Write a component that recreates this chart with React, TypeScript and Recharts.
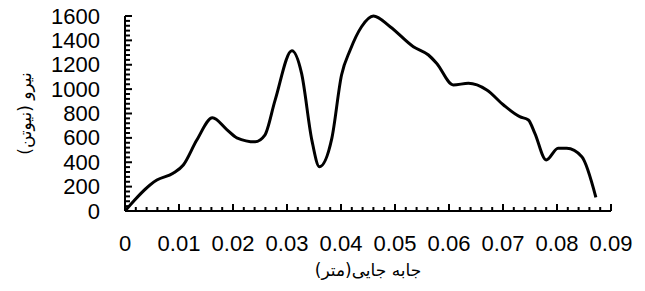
import React from 'react';
import { LineChart, Line, XAxis, YAxis } from 'recharts';

// displacement (m) and force (N)
const displacement = [
  0, 0.0059, 0.0089, 0.0108, 0.0133, 0.0162, 0.0188, 0.0207, 0.0241, 0.0259,
  0.0278, 0.0309, 0.0327, 0.0346, 0.036, 0.0383, 0.0401, 0.0417, 0.0438, 0.046,
  0.0491, 0.0534, 0.0562, 0.0577, 0.0608, 0.0636, 0.067, 0.0701, 0.0731, 0.0747,
  0.0759, 0.078, 0.0802, 0.0818, 0.0846, 0.0872,
];
const force = [
  0, 254, 309, 377, 582, 765, 670, 601, 568, 623,
  910, 1315, 1129, 582, 363, 596, 1116, 1321, 1512, 1600,
  1512, 1348, 1280, 1212, 1034, 1048, 993, 870, 774, 747,
  637, 418, 514, 514, 445, 112,
];

const xLabels = ['0', '0.01', '0.02', '0.03', '0.04', '0.05', '0.06', '0.07', '0.08', '0.09'];
const yLabels = ['0', '200', '400', '600', '800', '1000', '1200', '1400', '1600'];
const xTitle = 'جابه جایی(متر)';
const yTitle = 'نیرو (نیوتن)';

// 5 minor steps between each labelled tick
const xTicks = Array.from({ length: 46 }, (_, i) => +(i * 0.002).toFixed(3));
const yTicks = Array.from({ length: 41 }, (_, i) => i * 40);

const data = displacement.map((x, i) => ({ x, f: force[i] }));

const numFont = "'Liberation Sans', Arial, sans-serif";
const faFont = "'DejaVu Sans', sans-serif";
const tickColor = '#000';

// ticks point inward, longer on the labelled ones
const XTick = (props: any) => {
  const { x, y, index } = props;
  const major = index % 5 === 0;
  const len = major ? 7 : 4;
  return (
    <g>
      <rect x={x - 1} y={y - len} width={2} height={len} fill={tickColor} />
      {major && (
        <text x={x} y={y + 32} textAnchor="middle" dominantBaseline="central"
          fontFamily={numFont} fontSize={22} fill="#000">
          {xLabels[index / 5]}
        </text>
      )}
    </g>
  );
};

const YTick = (props: any) => {
  const { x, y, index } = props;
  const major = index % 5 === 0;
  const len = major ? 7 : 5;
  return (
    <g>
      <rect x={x} y={y - 1} width={len} height={2} fill={tickColor} />
      {major && (
        <text x={x - 25} y={y} textAnchor="end" dominantBaseline="central"
          fontFamily={numFont} fontSize={22} fill="#000">
          {yLabels[index / 5]}
        </text>
      )}
    </g>
  );
};

const XTitle = (props: any) => {
  const { x, y, width } = props.viewBox;
  return (
    <text x={x + width / 2} y={y + 59} textAnchor="middle" dominantBaseline="central"
      fontFamily={faFont} fontSize={17} fill="#000">
      {xTitle}
    </text>
  );
};

const YTitle = (props: any) => {
  const { x, y, height } = props.viewBox;
  const cx = x + 25;
  const cy = y + height / 2;
  return (
    <text x={cx} y={cy} textAnchor="middle" dominantBaseline="central"
      transform={`rotate(-90, ${cx}, ${cy})`}
      fontFamily={faFont} fontSize={17} fill="#000">
      {yTitle}
    </text>
  );
};

export default function App() {
  return (
    <div style={{ position: 'absolute', left: 0, top: 0, background: '#fff' }}>
      <LineChart width={645} height={291} data={data}
        margin={{ top: 16, right: 34, left: 0, bottom: 0 }}>
        <XAxis dataKey="x" type="number" domain={[0, 0.09]} ticks={xTicks} interval={0}
          height={80} tickSize={0} tickMargin={0} tickLine={false} tick={<XTick />}
          axisLine={{ stroke: '#000', strokeWidth: 2 }} label={<XTitle />} />
        <YAxis type="number" domain={[0, 1600]} ticks={yTicks} interval={0}
          width={125} tickSize={0} tickMargin={0} tickLine={false} tick={<YTick />}
          axisLine={{ stroke: '#000', strokeWidth: 2 }} label={<YTitle />} />
        <Line type="monotone" dataKey="f" stroke="#000" strokeWidth={3} dot={false}
          isAnimationActive={false} />
      </LineChart>
    </div>
  );
}
